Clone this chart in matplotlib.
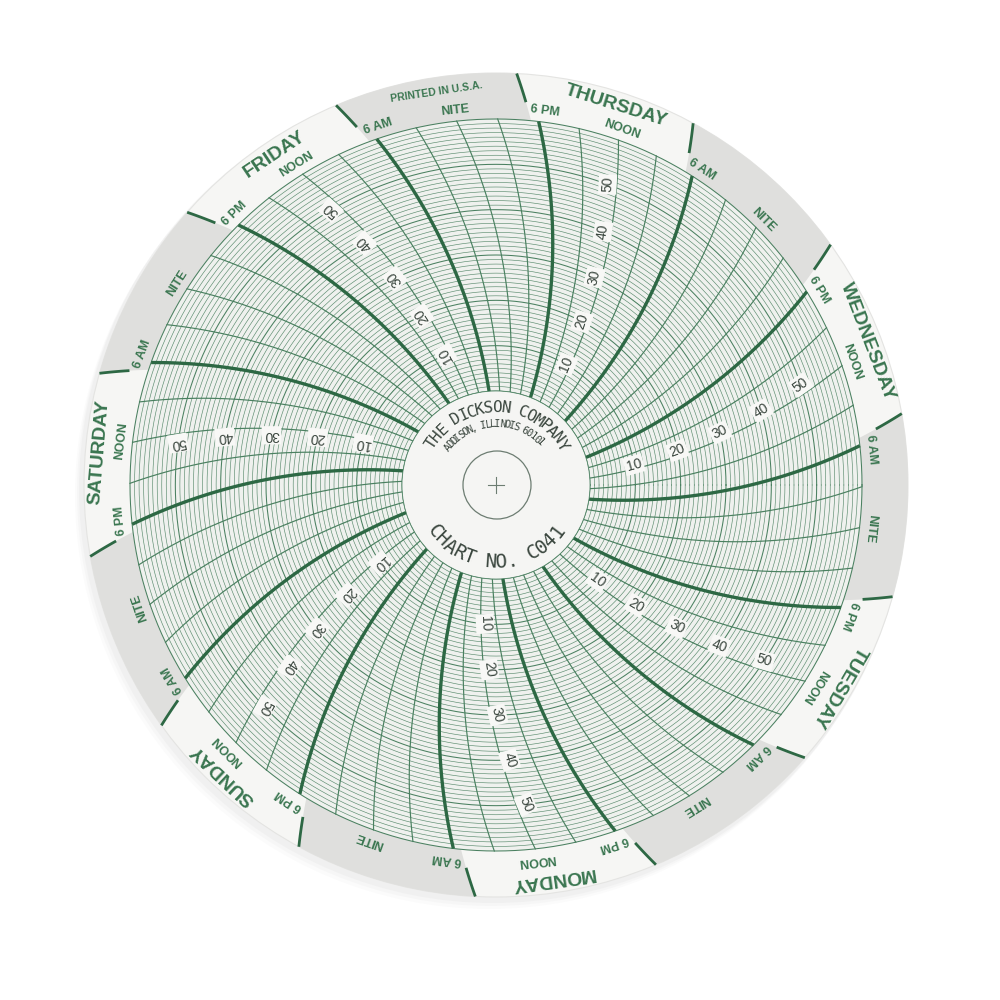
import numpy as np
import matplotlib
matplotlib.use('Agg')
import matplotlib.pyplot as plt
from matplotlib.patches import Circle, Polygon
from matplotlib import font_manager

# chart content
days = ['SUNDAY', 'MONDAY', 'TUESDAY', 'WEDNESDAY', 'THURSDAY', 'FRIDAY', 'SATURDAY']
time_hours = [0, 6, 12, 18]
time_names = ['NITE', '6 AM', 'NOON', '6 PM']
scale_values = [10, 20, 30, 40, 50]
scale_max = 60
line_step_h = 3
hub_title = 'THE DICKSON COMPANY'
hub_address = 'ADDISON, ILLINOIS 60101'
hub_chart = 'CHART NO. C041'
imprint = 'PRINTED IN U.S.A.'
imprint_hour = 120  # Thursday night / Friday 00:00

# geometry (pixel space of a 1000x1000 image)
cx, cy = 496, 485
r_hub, r_grid, r_disk = 94, 366, 412
arm = 540.0
theta_ref, t_ref = 63.5, 114.0
deg_per_h = 360.0 / 168.0

GREEN = '#2d6844'
GREEN_T = '#4a8060'
GREEN_TXT = '#3a7650'
GREY_TXT = '#3a463e'

names = {f.name for f in font_manager.fontManager.ttflist}
def pick(*fams):
    for f in fams:
        if f in names:
            return f
    return 'DejaVu Sans'
FONT_N = pick('Liberation Sans Narrow', 'Liberation Sans', 'DejaVu Sans')
FONT = pick('Liberation Sans', 'DejaVu Sans')
FONT_M = pick('DejaVu Sans Mono', 'Liberation Mono')


def phi(r):
    return np.degrees(np.arcsin(np.asarray(r) / (2 * arm)))


def ang(t, r):
    return theta_ref + (t - t_ref) * deg_per_h + phi(r)


def xy(r, a):
    a = np.radians(a)
    return cx + r * np.cos(a), cy - r * np.sin(a)


def rv(v):
    return r_hub + (r_grid - r_hub) * v / scale_max


fig = plt.figure(figsize=(10, 10), dpi=100)
ax = fig.add_axes([0, 0, 1, 1])
ax.set_xlim(0, 1000)
ax.set_ylim(1000, 0)
ax.set_aspect('equal')
ax.axis('off')

# paper + shadow
for dx, dy, al in [(-7, 10, 0.035), (-5, 7, 0.045), (-3, 4, 0.06)]:
    ax.add_patch(Circle((cx + dx, cy + dy), r_disk + 2, fc='#9a9a9a', ec='none', alpha=al, zorder=0))
ax.add_patch(Circle((cx, cy), r_disk, fc='#f6f6f4', ec='#e4e4e2', lw=0.8, zorder=1))
ax.add_patch(Circle((cx, cy), r_grid, fc='#eff1ee', ec='none', zorder=1))

# night bands in the rim (6 PM -> 6 AM)
plt.rcParams['hatch.color'] = '#b4b4b2'
plt.rcParams['hatch.linewidth'] = 0.6
rr_side = np.linspace(r_grid, r_disk, 20)
for d in range(7):
    t1, t2 = 24 * d + 18, 24 * d + 30
    a1 = ang(t1, rr_side) + 1.2
    a2 = ang(t2, rr_side) + 1.2
    aout = np.linspace(a1[-1], a2[-1], 60)
    ain = np.linspace(a2[0], a1[0], 60)
    px, py = [], []
    for r, a in zip(rr_side, a1):
        x, y = xy(r, a); px.append(x); py.append(y)
    for a in aout:
        x, y = xy(r_disk, a); px.append(x); py.append(y)
    for r, a in zip(rr_side[::-1], a2[::-1]):
        x, y = xy(r, a); px.append(x); py.append(y)
    for a in ain:
        x, y = xy(r_grid, a); px.append(x); py.append(y)
    ax.add_patch(Polygon(np.column_stack([px, py]), closed=True, fc='#dfdfdd',
                         ec='none', hatch='......', zorder=2))

# value circles
th = np.linspace(0, 360, 721)
for v in range(0, scale_max + 1):
    r = rv(v)
    x, y = xy(r, th)
    if v % 10 == 0:
        ax.plot(x, y, color=GREEN_T, lw=0.75, zorder=3)
    else:
        ax.plot(x, y, color=GREEN_T, lw=0.45, alpha=0.9, zorder=3)

# time arcs
rr = np.linspace(r_hub, r_grid, 120)
for t in np.arange(0, 168, line_step_h):
    x, y = xy(rr, ang(t, rr))
    if t % 12 == 6:
        ax.plot(x, y, color=GREEN, lw=2.4, zorder=4, solid_capstyle='butt')
    else:
        ax.plot(x, y, color=GREEN_T, lw=0.85, zorder=4)

# rim ticks at 6 AM / 6 PM
rt = np.linspace(384, r_disk, 20)
for d in range(7):
    for h in (6, 18):
        t = 24 * d + h
        x, y = xy(rt, ang(t, rt) + 1.2)
        ax.plot(x, y, color=GREEN, lw=2.0, zorder=5, solid_capstyle='butt')

# time labels around the rim
for d in range(7):
    for h, name in zip(time_hours, time_names):
        t = 24 * d + h
        off = -0.8 if name.startswith('6') else 0.0
        a = ang(t, r_grid) + off
        x, y = xy(377, a)
        ax.text(x, y, name, rotation=a - 90, rotation_mode='anchor', ha='center',
                va='center', fontsize=9, color=GREEN_TXT, family=FONT_N,
                fontweight='bold', zorder=6)
    a = ang(24 * d + 12, r_grid) + 2.0
    x, y = xy(398, a)
    ax.text(x, y, days[d], rotation=a - 90, rotation_mode='anchor', ha='center',
            va='center', fontsize=14, color=GREEN_TXT, family=FONT_N,
            fontweight='bold', zorder=6)

a = ang(imprint_hour, r_grid) + 2.5
x, y = xy(398, a)
ax.text(x, y, imprint, rotation=a - 90, rotation_mode='anchor', ha='center',
        va='center', fontsize=7.5, color=GREEN_TXT, family=FONT_N, fontweight='bold', zorder=6)

# scale numbers along each day
for d in range(7):
    t = 24 * d + 12.8
    for v in scale_values:
        r = rv(v)
        a = float(ang(t, r))
        x, y = xy(r, a)
        ax.text(x, y, str(v), rotation=a + float(phi(r)), rotation_mode='anchor',
                ha='center', va='center', fontsize=10, color=GREY_TXT, family=FONT,
                zorder=7, bbox=dict(boxstyle='square,pad=0.15', fc='#f8f8f6', ec='none'))

# hub
ax.add_patch(Circle((cx, cy), r_hub, fc='#f5f5f3', ec=GREEN_T, lw=0.5, zorder=8))
ax.add_patch(Circle((cx + 1, cy), 34, fc='none', ec='#6d7d72', lw=0.9, zorder=9))
ax.plot([cx - 8, cx + 8], [cy, cy], color='#6d7d72', lw=0.8, zorder=9)
ax.plot([cx, cx], [cy - 8, cy + 8], color='#6d7d72', lw=0.8, zorder=9)


def arc_text(s, r, a_center, span, fs, top=True, color=GREY_TXT):
    # lettering-guide style: evenly spaced characters along an arc
    n = len(s)
    step = span / (n - 1)
    for i, ch in enumerate(s):
        if top:
            a = a_center + span / 2 - i * step
            rot = a - 90
        else:
            a = a_center - span / 2 + i * step
            rot = a + 90
        x, y = xy(r, a)
        ax.text(x, y, ch, rotation=rot, rotation_mode='anchor', ha='center', va='center',
                fontsize=fs, color=color, family=FONT_M, zorder=10)


arc_text(hub_title, 77, 89, 116, 11.5)
arc_text(hub_address, 61, 93, 98, 7.5)
arc_text(hub_chart, 77, 270, 106, 14, top=False)

fig.savefig('out.png', dpi=100, facecolor='white')
